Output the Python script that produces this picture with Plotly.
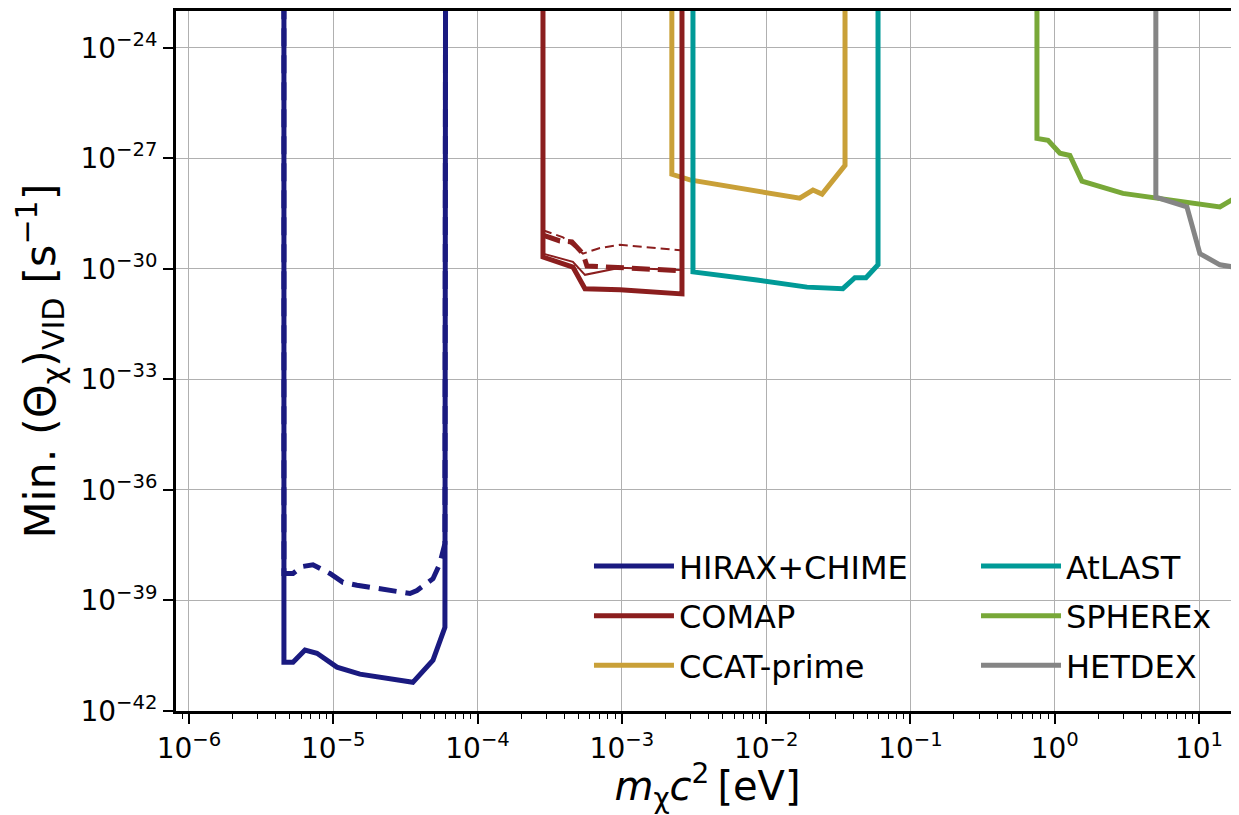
import plotly.graph_objects as go

TOP = 1e-22  # vertical edges run off the top of the axes

# ---------------- data ----------------
hirax_x = [4.55e-6, 4.55e-6, 5.26e-6, 6.37e-6, 7.71e-6, 1.06e-5, 1.53e-5, 3.56e-5, 4.91e-5, 5.94e-5, 6.0e-5]
hirax_y = [TOP, 2.1e-41, 2.1e-41, 4.5e-41, 3.7e-41, 1.55e-41, 1.0e-41, 6.0e-42, 2.4e-41, 1.86e-40, TOP]
hirax_d_x = [4.55e-6, 4.55e-6, 5.26e-6, 6.07e-6, 7.23e-6, 9.48e-6, 1.167e-5, 1.46e-5, 3.40e-5, 3.80e-5, 4.91e-5, 5.48e-5, 5.94e-5, 6.0e-5]
hirax_d_y = [TOP, 5.4e-39, 5.4e-39, 8.3e-39, 9.3e-39, 5.4e-39, 3.1e-39, 2.6e-39, 1.55e-39, 1.86e-39, 3.9e-39, 1.0e-38, 3.5e-38, TOP]

comap_x = [2.84e-4, 2.84e-4, 4.58e-4, 5.55e-4, 9.7e-4, 2.61e-3, 2.61e-3]
comap_y = [TOP, 2.1e-30, 1.12e-30, 2.9e-31, 2.7e-31, 2.1e-31, TOP]
comap_thin_x = [2.84e-4, 4.58e-4, 5.55e-4, 9.7e-4, 2.55e-3]
comap_thin_y = [2.6e-30, 1.55e-30, 6.9e-31, 1.07e-30, 9.3e-31]
comap_d_x = [2.84e-4, 3.72e-4, 4.51e-4, 5.37e-4, 5.73e-4, 9.7e-4, 2.55e-3]
comap_d_y = [8.3e-30, 5.75e-30, 5.4e-30, 2.6e-30, 1.2e-30, 1.07e-30, 8.9e-31]
comap_td_x = [2.84e-4, 3.91e-4, 5.37e-4, 7.05e-4, 9.7e-4, 2.55e-3]
comap_td_y = [1.12e-29, 7.2e-30, 2.6e-30, 3.7e-30, 4.5e-30, 3.2e-30]

ccat_x = [2.22e-3, 2.22e-3, 2.96e-3, 1.71e-2, 2.11e-2, 2.44e-2, 3.52e-2, 3.52e-2]
ccat_y = [TOP, 3.7e-28, 2.6e-28, 8.3e-29, 1.38e-28, 1.07e-28, 6.5e-28, TOP]

atlast_x = [3.11e-3, 3.11e-3, 8.63e-3, 1.92e-2, 3.40e-2, 4.12e-2, 4.92e-2, 5.96e-2, 5.96e-2]
atlast_y = [TOP, 8.3e-31, 5.0e-31, 3.2e-31, 2.9e-31, 5.75e-31, 5.75e-31, 1.29e-30, TOP]

spherex_x = [0.753, 0.753, 0.898, 1.086, 1.274, 1.545, 2.97, 5.10, 13.96, 17.2, 20.8]
spherex_y = [TOP, 3.47e-27, 3.1e-27, 1.38e-27, 1.2e-27, 2.4e-28, 1.12e-28, 8.3e-29, 4.8e-29, 7.8e-29, 7.8e-29]

hetdex_x = [5.02, 5.02, 8.24, 10.14, 13.96, 20.8]
hetdex_y = [TOP, 8.9e-29, 4.8e-29, 2.6e-30, 1.29e-30, 1.0e-30]

x_tickvals = [1e-6, 1e-5, 1e-4, 1e-3, 1e-2, 1e-1, 1e0, 1e1]
x_ticktext = ["10<sup>−6</sup>", "10<sup>−5</sup>", "10<sup>−4</sup>", "10<sup>−3</sup>",
              "10<sup>−2</sup>", "10<sup>−1</sup>", "10<sup>0</sup>", "10<sup>1</sup>"]
y_tickvals = [1e-42, 1e-39, 1e-36, 1e-33, 1e-30, 1e-27, 1e-24]
y_ticktext = ["10<sup>−42</sup>", "10<sup>−39</sup>", "10<sup>−36</sup>", "10<sup>−33</sup>",
              "10<sup>−30</sup>", "10<sup>−27</sup>", "10<sup>−24</sup>"]

C_HIRAX = "#1a1a80"
C_COMAP = "#8b1e1e"
C_CCAT = "#c9a038"
C_ATLAST = "#009a97"
C_SPHEREX = "#78a838"
C_HETDEX = "#858585"

W = 5
FONT = "DejaVu Sans"

fig = go.Figure()

def add(x, y, color, width, name=None, dash="solid", legend="legend", rank=None):
    fig.add_trace(go.Scatter(
        x=x, y=y, mode="lines", name=name,
        line=dict(color=color, width=width, dash=dash),
        showlegend=name is not None, legend=legend,
        legendgroup=name if name else None,
        legendrank=rank if rank else 1000,
        hoverinfo="skip" if name is None else None,
    ))

add(hirax_x, hirax_y, C_HIRAX, W, "HIRAX+CHIME", rank=1)
add(hirax_d_x, hirax_d_y, C_HIRAX, W, dash="18px,9px")
add(ccat_x, ccat_y, C_CCAT, W, "CCAT-prime", rank=3)
add(comap_x, comap_y, C_COMAP, W, "COMAP", rank=2)
add(comap_thin_x, comap_thin_y, C_COMAP, 2)
add(comap_d_x, comap_d_y, C_COMAP, W, dash="18px,8px")
add(comap_td_x, comap_td_y, C_COMAP, 2, dash="9px,5px")
add(atlast_x, atlast_y, C_ATLAST, W, "AtLAST", legend="legend2", rank=4)
add(spherex_x, spherex_y, C_SPHEREX, W, "SPHEREx", legend="legend2", rank=5)
add(hetdex_x, hetdex_y, C_HETDEX, W, "HETDEX", legend="legend2", rank=6)

legend_common = dict(
    font=dict(family=FONT, size=32, color="black"),
    bgcolor="rgba(0,0,0,0)", borderwidth=0,
    yanchor="top", xanchor="left", y=0.246,
    traceorder="grouped", tracegroupgap=5, itemwidth=80,
)

fig.update_layout(
    width=1231, height=807,
    margin=dict(l=168, r=0, t=0, b=104),
    paper_bgcolor="white", plot_bgcolor="white",
    font=dict(family=FONT, size=28, color="black"),
    legend=dict(x=0.3885, **legend_common),
    legend2=dict(x=0.7526, **legend_common),
)

fig.update_xaxes(
    type="log", range=[-6.09, 1.277],
    tickmode="array", tickvals=x_tickvals, ticktext=x_ticktext,
    ticks="outside", ticklen=10, tickwidth=1.5, tickcolor="black",
    showline=True, linewidth=3, linecolor="black", mirror=True,
    showgrid=True, gridcolor="#b0b0b0", gridwidth=1,
    tickfont=dict(family=FONT, size=28, color="black"),
    minor=dict(ticks="outside", ticklen=5, tickwidth=1, tickcolor="black",
               dtick="D1", showgrid=False),
    title=dict(text="<i>m</i><sub>χ</sub><i>c</i><sup>2</sup>\u2009[eV]",
               font=dict(family=FONT, size=40, color="black"), standoff=8),
)

fig.update_yaxes(
    type="log", range=[-42, -23],
    tickmode="array", tickvals=y_tickvals, ticktext=y_ticktext,
    ticks="outside", ticklen=10, tickwidth=1.5, tickcolor="black",
    showline=True, linewidth=3, linecolor="black", mirror=False,
    showgrid=True, gridcolor="#b0b0b0", gridwidth=1,
    tickfont=dict(family=FONT, size=28, color="black"),
    title=dict(text="Min. (Θ<sub>χ</sub>)<sub>VID</sub> [s<sup>−1</sup>]",
               font=dict(family=FONT, size=43, color="black"), standoff=12),
)

fig.write_html("out.html")
